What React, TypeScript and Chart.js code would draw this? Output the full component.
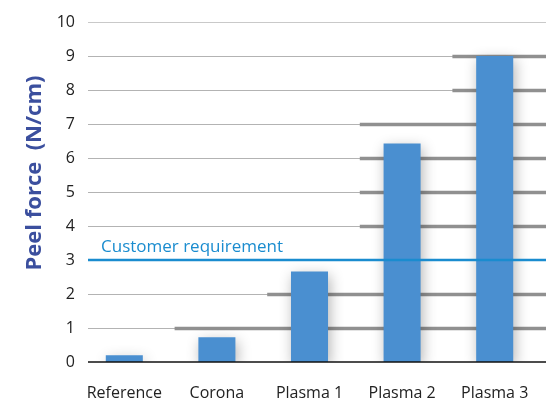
import React, { useEffect, useRef } from "react";
import { Chart, registerables } from "chart.js";

Chart.register(...registerables);

const categories = ["Reference", "Corona", "Plasma 1", "Plasma 2", "Plasma 3"];
const peelForce = [0.2, 0.73, 2.66, 6.43, 9.0];
const requirementValue = 3;
const requirementLabel = "Customer requirement";
const yAxisTitle = "Peel force  (N/cm)";
const yMin = 0;
const yMax = 10;
const yStep = 1;

const FONT = "'Open Sans', 'DejaVu Sans', sans-serif";
const BAR_BLUE = "#4a8fd0";
const REQ_BLUE = "#1a8ccf";
const TITLE_BLUE = "#3b4f9e";

const decorPlugin = {
  id: "decor",
  beforeDatasetsDraw(chart: any) {
    const { ctx, chartArea, scales } = chart;
    const y = scales.y;
    const x = scales.x;
    const gridLeft = chartArea.left + 10;
    const right = chart.width;
    const catW = (chartArea.right - chartArea.left) / categories.length;
    ctx.save();
    y.ticks.forEach((t: any) => {
      const v = t.value;
      if (v === yMin || v === requirementValue) return;
      const py = Math.round(y.getPixelForValue(v)) + 0.5;
      ctx.beginPath();
      ctx.strokeStyle = v === yMax ? "#c9c9c9" : "#b3b3b3";
      ctx.lineWidth = 1.2;
      ctx.moveTo(gridLeft, py);
      ctx.lineTo(right, py);
      ctx.stroke();
      const k = peelForce.findIndex((p) => p > v - 0.6);
      if (k >= 0) {
        const sx = x.getPixelForValue(k) - catW / 2 + 4;
        ctx.beginPath();
        ctx.strokeStyle = "#909090";
        ctx.lineWidth = 3.6;
        ctx.moveTo(sx, py);
        ctx.lineTo(right, py);
        ctx.stroke();
      }
    });
    ctx.restore();
    ctx.save();
    ctx.shadowColor = "rgba(0,0,0,0.3)";
    ctx.shadowBlur = 14;
    ctx.shadowOffsetX = 2;
    ctx.shadowOffsetY = 4;
  },
  afterDatasetsDraw(chart: any) {
    const { ctx, chartArea, scales } = chart;
    ctx.restore();
    const y = scales.y;
    const gridLeft = chartArea.left + 10;
    const right = chart.width;
    ctx.save();
    // zero line
    const p0 = y.getPixelForValue(yMin);
    ctx.beginPath();
    ctx.strokeStyle = "#111";
    ctx.lineWidth = 1.5;
    ctx.moveTo(gridLeft, p0);
    ctx.lineTo(right, p0);
    ctx.stroke();
    // requirement line
    const pr = y.getPixelForValue(requirementValue);
    ctx.beginPath();
    ctx.strokeStyle = REQ_BLUE;
    ctx.lineWidth = 2.5;
    ctx.moveTo(gridLeft, pr);
    ctx.lineTo(right, pr);
    ctx.stroke();
    ctx.fillStyle = REQ_BLUE;
    ctx.font = `17px ${FONT}`;
    ctx.textAlign = "left";
    ctx.textBaseline = "alphabetic";
    ctx.fillText(requirementLabel, gridLeft + 13, pr - 8);
    ctx.restore();
  },
  afterDraw(chart: any) {
    const { ctx } = chart;
    ctx.save();
    ctx.translate(35, 173);
    ctx.rotate(-Math.PI / 2);
    ctx.fillStyle = TITLE_BLUE;
    ctx.font = `bold 22px ${FONT}`;
    ctx.textAlign = "center";
    ctx.textBaseline = "middle";
    ctx.fillText(yAxisTitle, 0, 0);
    ctx.restore();
  },
};

export default function App() {
  const ref = useRef<HTMLCanvasElement>(null);
  useEffect(() => {
    document.body.style.margin = "0";
    const chart = new Chart(ref.current!, {
      type: "bar",
      data: {
        labels: categories,
        datasets: [
          {
            data: peelForce,
            backgroundColor: BAR_BLUE,
            barPercentage: 0.4,
            categoryPercentage: 1,
          },
        ],
      },
      options: {
        responsive: false,
        animation: false,
        layout: { padding: { top: 22, right: 5, left: 0, bottom: 0 } },
        plugins: { legend: { display: false }, tooltip: { enabled: false } },
        scales: {
          x: {
            type: "category",
            offset: true,
            grid: { display: false, drawTicks: false },
            border: { display: false },
            ticks: { font: { family: FONT, size: 16 }, color: "#222", padding: 22, maxRotation: 0, autoSkip: false },
            afterFit: (s: any) => {
              s.height = 40;
              s.paddingLeft = 0;
              s.paddingRight = 0;
            },
          },
          y: {
            min: yMin,
            max: yMax,
            grid: { display: false, drawTicks: false },
            border: { display: false },
            ticks: { stepSize: yStep, font: { family: FONT, size: 16 }, color: "#222", padding: 3 },
            afterFit: (s: any) => {
              s.width = 78;
            },
          },
        },
      },
      plugins: [decorPlugin],
    });
    return () => chart.destroy();
  }, []);
  return (
    <div style={{ width: 546, height: 402 }}>
      <canvas ref={ref} width={546} height={402} style={{ display: "block" }} />
    </div>
  );
}
